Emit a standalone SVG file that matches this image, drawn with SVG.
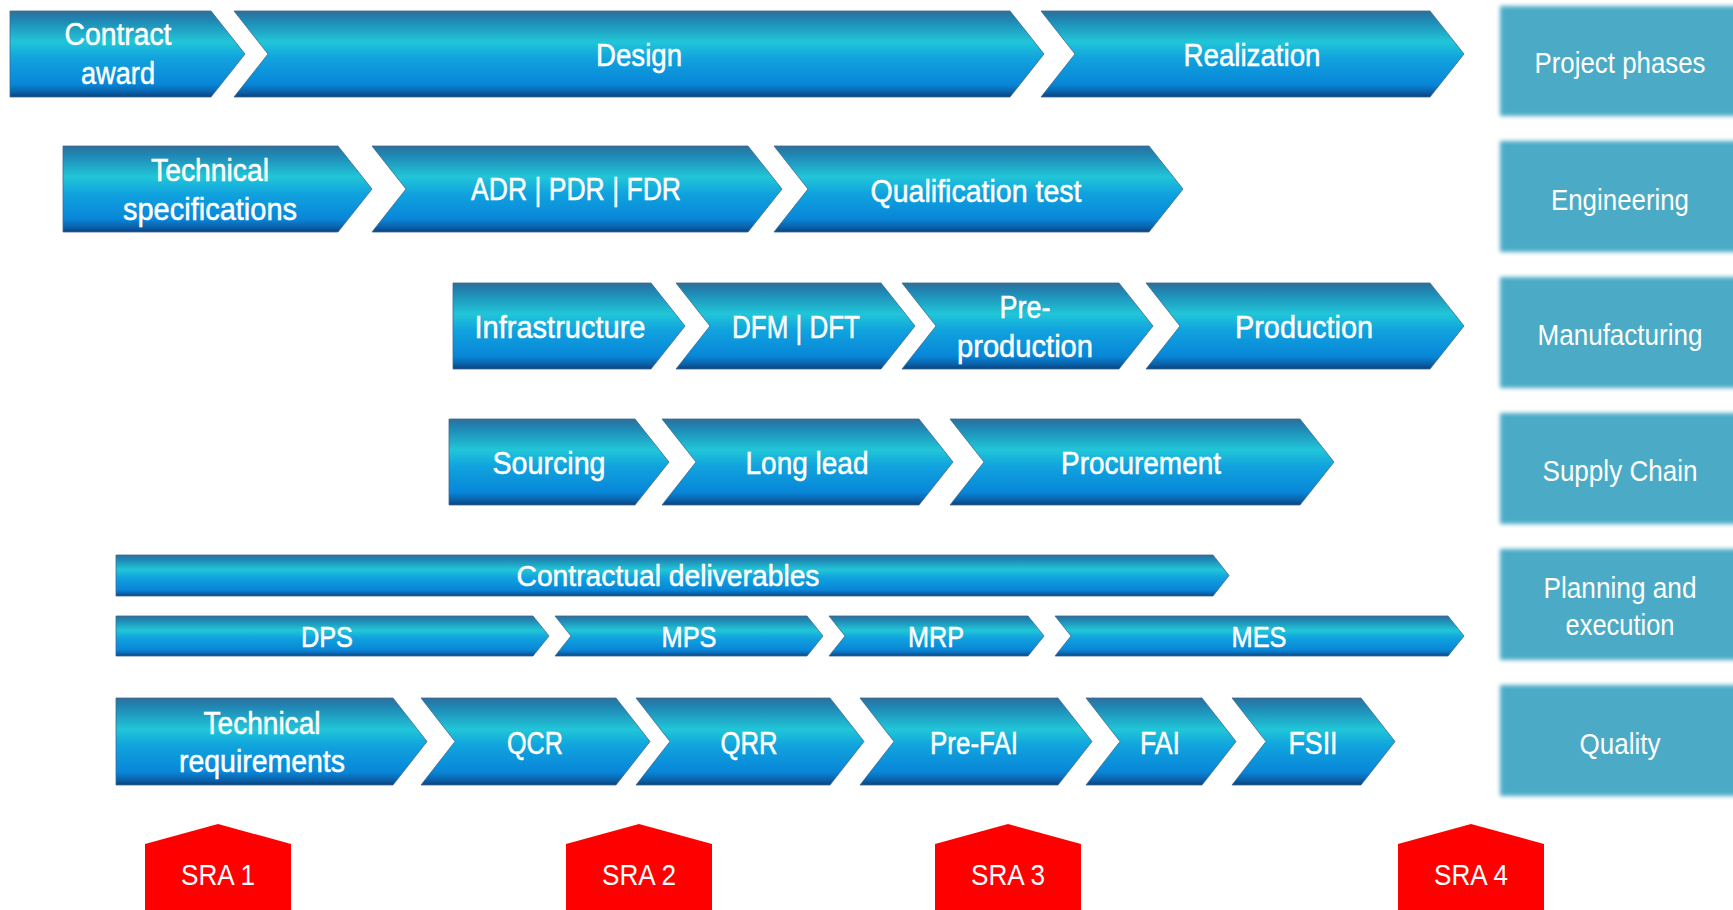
<svg xmlns="http://www.w3.org/2000/svg" width="1733" height="910" viewBox="0 0 1733 910">
<defs>
<linearGradient id="chev" x1="0" y1="0" x2="0" y2="1">
<stop offset="0" stop-color="#2f6f9a"/>
<stop offset="0.1" stop-color="#1f86b3"/>
<stop offset="0.36" stop-color="#21c6d8"/>
<stop offset="0.55" stop-color="#10a3de"/>
<stop offset="0.85" stop-color="#0886d8"/>
<stop offset="0.95" stop-color="#0a5fa6"/>
<stop offset="1" stop-color="#0b3f7c"/>
</linearGradient>
<filter id="soft" x="-5%" y="-5%" width="110%" height="110%">
<feGaussianBlur stdDeviation="2"/>
</filter>
<style>
.c{fill:url(#chev);stroke:#3c6a93;stroke-width:0.8}
.t{font-family:"Liberation Sans",Arial,sans-serif;fill:#fff;stroke:#fff;stroke-width:0.5;text-anchor:middle;dominant-baseline:central;font-size:31px}
.ts{font-size:29px}
.lab{fill:#4babc6;filter:url(#soft)}
.lt{font-family:"Liberation Sans",Arial,sans-serif;fill:#fff;text-anchor:middle;dominant-baseline:central;font-size:30px}
.sra{fill:#ff0000}
.st{font-family:"Liberation Sans",Arial,sans-serif;fill:#fff;text-anchor:middle;dominant-baseline:central;font-size:29px}
</style>
</defs>
<rect width="1733" height="910" fill="#ffffff"/>

<!-- Row labels -->
<g id="lab-project"><rect class="lab" x="1500" y="6" width="240" height="110"/><text class="lt" x="1620" y="62" textLength="171" lengthAdjust="spacingAndGlyphs">Project phases</text></g>
<g id="lab-engineering"><rect class="lab" x="1500" y="141" width="240" height="111"/><text class="lt" x="1620" y="199" textLength="138" lengthAdjust="spacingAndGlyphs">Engineering</text></g>
<g id="lab-manufacturing"><rect class="lab" x="1500" y="277" width="240" height="111"/><text class="lt" x="1620" y="334" textLength="165" lengthAdjust="spacingAndGlyphs">Manufacturing</text></g>
<g id="lab-supply"><rect class="lab" x="1500" y="413" width="240" height="111"/><text class="lt" x="1620" y="470" textLength="155" lengthAdjust="spacingAndGlyphs">Supply Chain</text></g>
<g id="lab-planning"><rect class="lab" x="1500" y="549" width="240" height="111"/><text class="lt" x="1620" y="587" textLength="153" lengthAdjust="spacingAndGlyphs">Planning and</text><text class="lt" x="1620" y="624" textLength="109" lengthAdjust="spacingAndGlyphs">execution</text></g>
<g id="lab-quality"><rect class="lab" x="1500" y="685" width="240" height="111"/><text class="lt" x="1620" y="743" textLength="81" lengthAdjust="spacingAndGlyphs">Quality</text></g>

<!-- Row 1 -->
<g id="contract-award"><path class="c" d="M10,11 L211,11 L245,54 L211,97 L10,97 Z"/><text class="t" x="118" y="34" textLength="107" lengthAdjust="spacingAndGlyphs">Contract</text><text class="t" x="118" y="73" textLength="74" lengthAdjust="spacingAndGlyphs">award</text></g>
<g id="design"><path class="c" d="M234,11 L1010,11 L1044,54 L1010,97 L234,97 L268,54 Z"/><text class="t" x="639" y="55" textLength="86" lengthAdjust="spacingAndGlyphs">Design</text></g>
<g id="realization"><path class="c" d="M1041,11 L1430,11 L1464,54 L1430,97 L1041,97 L1075,54 Z"/><text class="t" x="1252" y="55" textLength="137" lengthAdjust="spacingAndGlyphs">Realization</text></g>

<!-- Row 2 -->
<g id="tech-spec"><path class="c" d="M63,146 L338,146 L372,189 L338,232 L63,232 Z"/><text class="t" x="210" y="170" textLength="118" lengthAdjust="spacingAndGlyphs">Technical</text><text class="t" x="210" y="209" textLength="174" lengthAdjust="spacingAndGlyphs">specifications</text></g>
<g id="adr"><path class="c" d="M372,146 L748,146 L782,189 L748,232 L372,232 L406,189 Z"/><text class="t" x="576" y="189" textLength="210" lengthAdjust="spacingAndGlyphs">ADR | PDR | FDR</text></g>
<g id="qual"><path class="c" d="M774,146 L1149,146 L1183,189 L1149,232 L774,232 L808,189 Z"/><text class="t" x="976" y="191" textLength="211" lengthAdjust="spacingAndGlyphs">Qualification test</text></g>

<!-- Row 3 -->
<g id="infrastructure"><path class="c" d="M453,283 L651,283 L685,326 L651,369 L453,369 Z"/><text class="t" x="560" y="327" textLength="171" lengthAdjust="spacingAndGlyphs">Infrastructure</text></g>
<g id="dfm"><path class="c" d="M676,283 L881,283 L915,326 L881,369 L676,369 L710,326 Z"/><text class="t" x="796" y="327" textLength="128" lengthAdjust="spacingAndGlyphs">DFM | DFT</text></g>
<g id="preproduction"><path class="c" d="M902,283 L1119,283 L1153,326 L1119,369 L902,369 L936,326 Z"/><text class="t" x="1025" y="307" textLength="51" lengthAdjust="spacingAndGlyphs">Pre-</text><text class="t" x="1025" y="346" textLength="136" lengthAdjust="spacingAndGlyphs">production</text></g>
<g id="production"><path class="c" d="M1146,283 L1430,283 L1464,326 L1430,369 L1146,369 L1180,326 Z"/><text class="t" x="1304" y="327" textLength="138" lengthAdjust="spacingAndGlyphs">Production</text></g>

<!-- Row 4 -->
<g id="sourcing"><path class="c" d="M449,419 L635,419 L669,462 L635,505 L449,505 Z"/><text class="t" x="549" y="463" textLength="113" lengthAdjust="spacingAndGlyphs">Sourcing</text></g>
<g id="longlead"><path class="c" d="M662,419 L919,419 L953,462 L919,505 L662,505 L696,462 Z"/><text class="t" x="807" y="463" textLength="123" lengthAdjust="spacingAndGlyphs">Long lead</text></g>
<g id="procurement"><path class="c" d="M950,419 L1300,419 L1334,462 L1300,505 L950,505 L984,462 Z"/><text class="t" x="1141" y="463" textLength="160" lengthAdjust="spacingAndGlyphs">Procurement</text></g>

<!-- Row 5 -->
<g id="contractual"><path class="c" d="M116,555 L1213,555 L1229,575.5 L1213,596 L116,596 Z"/><text class="t ts" x="668" y="576" textLength="303" lengthAdjust="spacingAndGlyphs">Contractual deliverables</text></g>
<g id="dps"><path class="c" d="M116,616 L533,616 L549,636 L533,656 L116,656 Z"/><text class="t ts" x="327" y="637" textLength="52" lengthAdjust="spacingAndGlyphs">DPS</text></g>
<g id="mps"><path class="c" d="M555,616 L807,616 L823,636 L807,656 L555,656 L571,636 Z"/><text class="t ts" x="689" y="637" textLength="55" lengthAdjust="spacingAndGlyphs">MPS</text></g>
<g id="mrp"><path class="c" d="M829,616 L1028,616 L1044,636 L1028,656 L829,656 L845,636 Z"/><text class="t ts" x="936" y="637" textLength="56" lengthAdjust="spacingAndGlyphs">MRP</text></g>
<g id="mes"><path class="c" d="M1055,616 L1448,616 L1464,636 L1448,656 L1055,656 L1071,636 Z"/><text class="t ts" x="1259" y="637" textLength="55" lengthAdjust="spacingAndGlyphs">MES</text></g>

<!-- Row 6 -->
<g id="tech-req"><path class="c" d="M116,698 L393,698 L427,741.5 L393,785 L116,785 Z"/><text class="t" x="262" y="723" textLength="117" lengthAdjust="spacingAndGlyphs">Technical</text><text class="t" x="262" y="761" textLength="166" lengthAdjust="spacingAndGlyphs">requirements</text></g>
<g id="qcr"><path class="c" d="M421,698 L616,698 L650,741.5 L616,785 L421,785 L455,741.5 Z"/><text class="t" x="535" y="743" textLength="56" lengthAdjust="spacingAndGlyphs">QCR</text></g>
<g id="qrr"><path class="c" d="M636,698 L830,698 L864,741.5 L830,785 L636,785 L670,741.5 Z"/><text class="t" x="749" y="743" textLength="57" lengthAdjust="spacingAndGlyphs">QRR</text></g>
<g id="prefai"><path class="c" d="M860,698 L1058,698 L1092,741.5 L1058,785 L860,785 L894,741.5 Z"/><text class="t" x="974" y="743" textLength="88" lengthAdjust="spacingAndGlyphs">Pre-FAI</text></g>
<g id="fai"><path class="c" d="M1086,698 L1202,698 L1236,741.5 L1202,785 L1086,785 L1120,741.5 Z"/><text class="t" x="1160" y="743" textLength="40" lengthAdjust="spacingAndGlyphs">FAI</text></g>
<g id="fsii"><path class="c" d="M1232,698 L1361,698 L1395,741.5 L1361,785 L1232,785 L1266,741.5 Z"/><text class="t" x="1313" y="743" textLength="49" lengthAdjust="spacingAndGlyphs">FSII</text></g>

<!-- SRA markers -->
<g id="sra1"><path class="sra" d="M145,844 L218,824 L291,844 L291,910 L145,910 Z"/><text class="st" x="218" y="875" textLength="74" lengthAdjust="spacingAndGlyphs">SRA 1</text></g>
<g id="sra2"><path class="sra" d="M566,844 L639,824 L712,844 L712,910 L566,910 Z"/><text class="st" x="639" y="875" textLength="74" lengthAdjust="spacingAndGlyphs">SRA 2</text></g>
<g id="sra3"><path class="sra" d="M935,844 L1008,824 L1081,844 L1081,910 L935,910 Z"/><text class="st" x="1008" y="875" textLength="74" lengthAdjust="spacingAndGlyphs">SRA 3</text></g>
<g id="sra4"><path class="sra" d="M1398,844 L1471,824 L1544,844 L1544,910 L1398,910 Z"/><text class="st" x="1471" y="875" textLength="74" lengthAdjust="spacingAndGlyphs">SRA 4</text></g>

<g id="connectors"></g>
</svg>
